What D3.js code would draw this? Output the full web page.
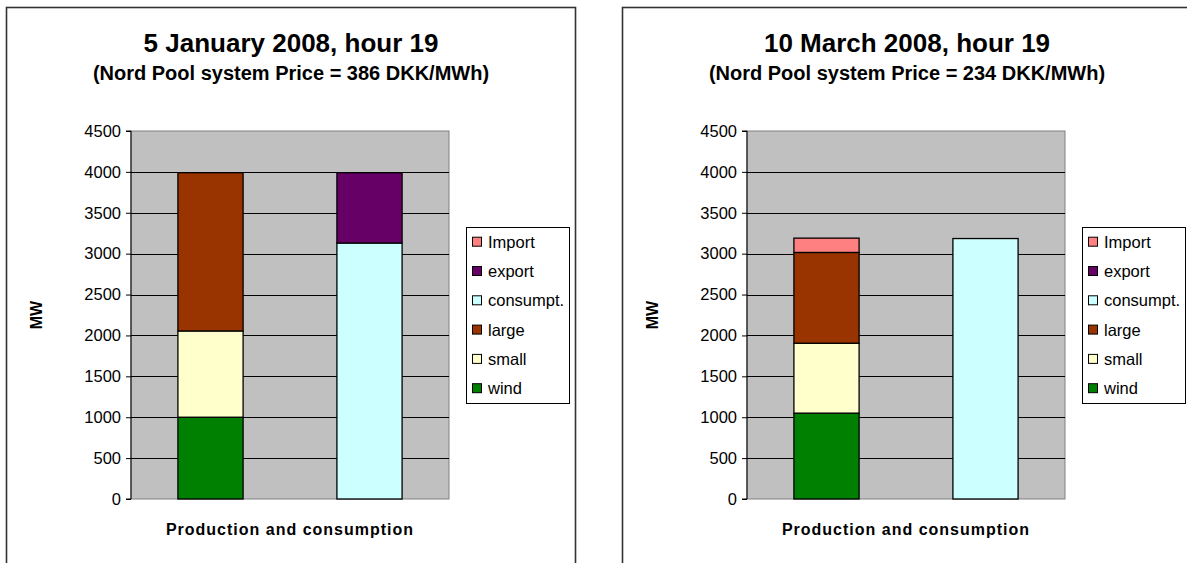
<!DOCTYPE html>
<html><head><meta charset="utf-8">
<script src="https://cdn.jsdelivr.net/npm/d3@7"></script>
<style>body{margin:0;background:#fff}svg{display:block;font-family:"Liberation Sans",Arial,sans-serif}</style>
</head><body><svg id="c" width="1187" height="563"></svg>
<script>
// ---- data ----
const categories = ["Production", "Consumption"];
const seriesNames = ["wind", "small", "large", "consumpt.", "export", "Import"];
const seriesColors = ["#008000", "#FFFFCC", "#993300", "#CCFFFF", "#660066", "#FF8080"];
const yTicks = [0, 500, 1000, 1500, 2000, 2500, 3000, 3500, 4000, 4500];

const janTitle = "5 January 2008, hour 19";
const janSubtitle = "(Nord Pool system Price = 386 DKK/MWh)";
const janWind = [1000, 0];
const janSmall = [1055, 0];
const janLarge = [1935, 0];
const janConsumpt = [0, 3130];
const janExport = [0, 860];
const janImport = [0, 0];

const marTitle = "10 March 2008, hour 19";
const marSubtitle = "(Nord Pool system Price = 234 DKK/MWh)";
const marWind = [1050, 0];
const marSmall = [855, 0];
const marLarge = [1110, 0];
const marConsumpt = [0, 3185];
const marExport = [0, 0];
const marImport = [175, 0];

const xLabel = "Production and consumption";
const yLabel = "MW";

const panels = [
  {ox: 0, title: janTitle, subtitle: janSubtitle,
   series: [janWind, janSmall, janLarge, janConsumpt, janExport, janImport]},
  {ox: 616, title: marTitle, subtitle: marSubtitle,
   series: [marWind, marSmall, marLarge, marConsumpt, marExport, marImport]}
];

const svg = d3.select("#c");

panels.forEach(p => {
  const g = svg.append("g").attr("transform", `translate(${p.ox},0)`);
  // frame
  g.append("rect").attr("x", 6.5).attr("y", 7.5).attr("width", 569).attr("height", 600)
    .attr("fill", "#fff").attr("stroke", "#333").attr("stroke-width", 1.6);

  const x0 = 131, x1 = 449, y0 = 499, y1 = 131;
  const y = d3.scaleLinear().domain([0, 4500]).range([y0, y1]);
  const x = d3.scaleBand().domain(categories).range([x0, x1]).paddingInner(0.59).paddingOuter(0.295);

  // plot area
  g.append("rect").attr("x", x0).attr("y", y1).attr("width", x1 - x0).attr("height", y0 - y1)
    .attr("fill", "#C0C0C0").attr("stroke", "#808080").attr("stroke-width", 1);

  // gridlines
  g.selectAll(".grid").data(yTicks.filter(t => t > 0 && t < 4500)).join("line")
    .attr("x1", x0).attr("x2", x1).attr("y1", d => Math.round(y(d)) + 0.5).attr("y2", d => Math.round(y(d)) + 0.5)
    .attr("stroke", "#000").attr("stroke-width", 1);

  // stacked bars
  const rows = categories.map((c, i) => {
    const r = {cat: c};
    seriesNames.forEach((s, k) => r[s] = p.series[k][i]);
    return r;
  });
  const stack = d3.stack().keys(seriesNames)(rows);
  stack.forEach((layer, k) => {
    g.selectAll(null).data(layer.filter(d => d[1] - d[0] > 0)).join("rect")
      .attr("x", d => x(d.data.cat))
      .attr("width", x.bandwidth())
      .attr("y", d => y(d[1]))
      .attr("height", d => y(d[0]) - y(d[1]))
      .attr("fill", seriesColors[k]).attr("stroke", "#000").attr("stroke-width", 1.3);
  });

  // y axis
  const axis = d3.axisLeft(y).tickValues(yTicks).tickSize(5).tickPadding(5).tickFormat(d3.format("d"));
  const ag = g.append("g").attr("transform", `translate(${x0},0)`).call(axis);
  ag.select(".domain").attr("stroke", "#000").attr("d", `M-5,${y0}H0V${y1}H-5`);
  ag.selectAll(".tick line").attr("stroke", "#000");
  ag.selectAll(".tick text").attr("font-size", 16.5).attr("fill", "#000")
    .attr("font-family", "Liberation Sans, Arial, sans-serif");

  // titles
  g.append("text").attr("x", 291).attr("y", 52).attr("text-anchor", "middle")
    .attr("font-size", 26).attr("font-weight", "bold").text(p.title);
  g.append("text").attr("x", 291).attr("y", 80).attr("text-anchor", "middle")
    .attr("font-size", 20).attr("font-weight", "bold").text(p.subtitle);

  // axis labels
  g.append("text").attr("x", 290).attr("y", 535).attr("text-anchor", "middle")
    .attr("font-size", 16).attr("font-weight", "bold").attr("letter-spacing", 1).text(xLabel);
  g.append("text").attr("transform", "translate(42,315) rotate(-90)").attr("text-anchor", "middle")
    .attr("font-size", 16).attr("font-weight", "bold").text(yLabel);

  // legend (reverse order)
  const lg = g.append("g");
  lg.append("rect").attr("x", 466.5).attr("y", 227.5).attr("width", 103).attr("height", 176)
    .attr("fill", "#fff").attr("stroke", "#000").attr("stroke-width", 1);
  const legItems = seriesNames.map((s, k) => ({s, c: seriesColors[k]})).reverse();
  const li = lg.selectAll(".li").data(legItems).join("g")
    .attr("transform", (d, i) => `translate(0,${241.7 + i * 29.3})`);
  li.append("rect").attr("x", 472.5).attr("y", -4.5).attr("width", 9).attr("height", 9)
    .attr("fill", d => d.c).attr("stroke", "#000").attr("stroke-width", 1);
  li.append("text").attr("x", 488).attr("y", 6).attr("font-size", 16.5).text(d => d.s);
});
</script></body></html>
